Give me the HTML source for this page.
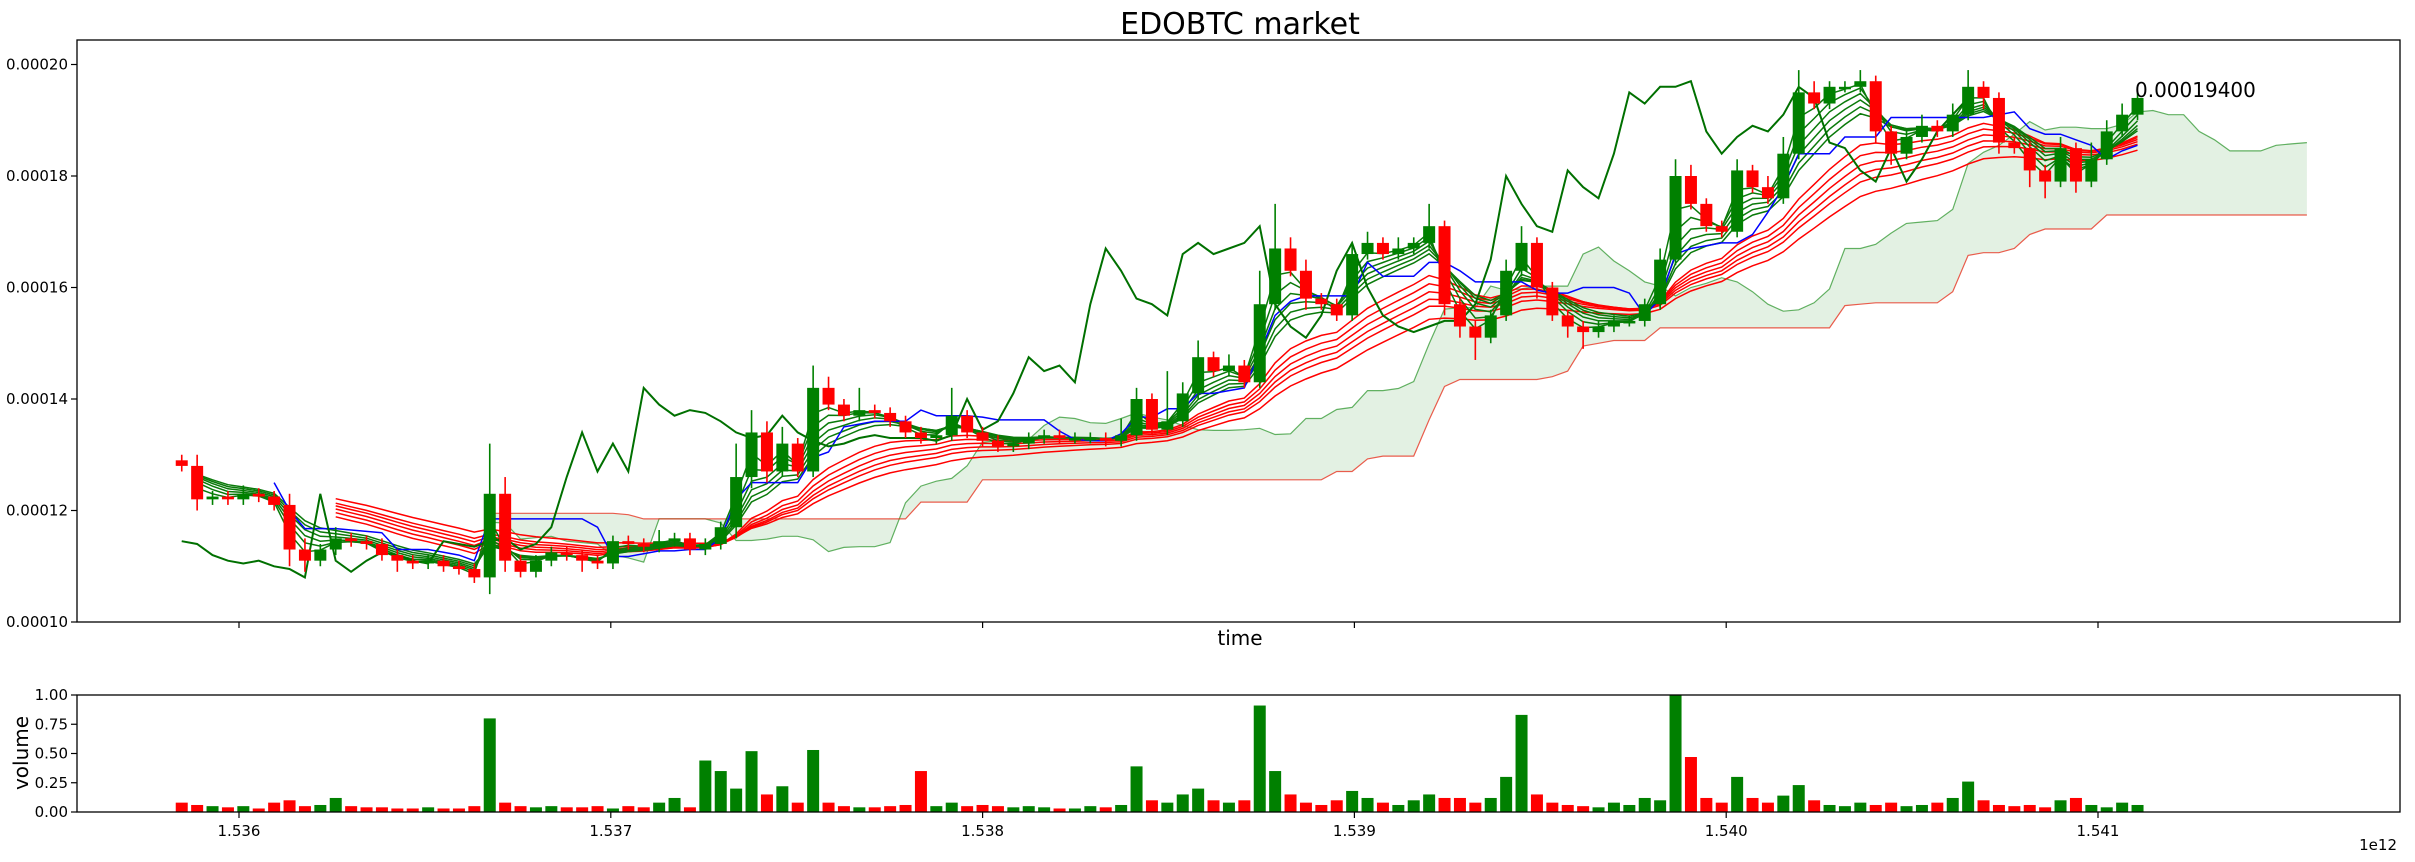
<!DOCTYPE html>
<html><head><meta charset="utf-8">
<style>
html,body{margin:0;padding:0;background:#fff;}
svg{display:block;font-family:"DejaVu Sans","Liberation Sans",sans-serif;}
</style></head>
<body>
<svg id="chart" width="2415" height="862" viewBox="0 0 2415 862" xmlns="http://www.w3.org/2000/svg">
<rect x="0" y="0" width="2415" height="862" fill="#fff"/>
<text x="1240" y="34" font-size="30" text-anchor="middle">EDOBTC market</text>
<g id="main"></g>
<g id="vol"></g>
<text x="1240" y="645" font-size="20" text-anchor="middle">time</text>
<text x="28" y="753" font-size="20" text-anchor="middle" transform="rotate(-90 28 753)">volume</text>
<text x="2397" y="850" font-size="15" text-anchor="end">1e12</text>
</svg>
<script>
// ---- data (price in units of 1e-6 BTC) ----
const closes = [128,122,122.5,122,123,122.5,121,113,111,113,115,114.5,114,112,111,110.5,111,110,109.5,108,
123,111,109,111,112.5,112,111,110.5,114.5,114,113.5,114.5,115,113,114,117,126,134,127,132,
127,142,139,137,138,137.5,136,134,133,133.5,137,134,132.5,131.5,132,133,133.5,133,133,133,
132.5,133.5,140,134.5,136,141,147.5,145,146,143,157,167,163,158,157,155,166,168,166,167,
168,171,157,153,151,155,163,168,160,155,153,152,153,154,154,157,165,180,175,171,
170,181,178,176,184,195,193,196,196,197,188,184,187,189,188,191,196,194,186,185,
181,179,185,179,183,188,191,194];
const firstOpen = 129;
const highWick = [1,2,1,1,1.5,1,1,2,2,1,2,1,1,1,1,1,1,1,1,1,
9,3,1,1,1,1,1,1,1,1,1,2,1,1,1,1,6,4,2,3,
1,4,2,1,4,1,1,1,1,1,5,1,1,1,1,1,1,1,1,1,
1,3,2,1,9,2,3,1,2,1,6,8,2,2,1,1,2,2,1,2,
1,4,1,1,1,1,2,3,1,1,1,1,1,1,1,1,2,3,2,1,
1,2,1,2,3,4,2,1,1,2,1,1,1,2,1,2,3,1,1,1,
1,1,2,1,3,2,2,1];
const lowWick = [1,2,1,1,1,1,1,3,2,1,1,1,1,1,2,1,1,1,1,1,
3,2,1,1,1,1,2,1,1,1,1,1,1,1,1,1,2,2,2,1,
1,1,1,1,1,1,1,1,1,1,1,1,1,1,1,1,1,1,1,1,
1,1,1,1,1,1,1,1,1,1,1,1,1,2,1,1,1,1,1,1,
1,1,2,2,4,1,1,1,2,1,2,3,1,1,1,1,1,1,1,1,
1,1,1,1,1,1,1,1,1,1,2,2,1,1,1,1,1,2,2,1,
3,3,1,2,1,1,1,1];
const volumes = [0.08,0.06,0.05,0.04,0.05,0.03,0.08,0.1,0.05,0.06,0.12,0.05,0.04,0.04,0.03,0.03,0.04,0.03,0.03,0.05,
0.8,0.08,0.05,0.04,0.05,0.04,0.04,0.05,0.03,0.05,0.04,0.08,0.12,0.04,0.44,0.35,0.2,0.52,0.15,0.22,
0.08,0.53,0.08,0.05,0.04,0.04,0.05,0.06,0.35,0.05,0.08,0.05,0.06,0.05,0.04,0.05,0.04,0.03,0.03,0.05,
0.04,0.06,0.39,0.1,0.08,0.15,0.2,0.1,0.08,0.1,0.91,0.35,0.15,0.08,0.06,0.1,0.18,0.12,0.08,0.06,
0.1,0.15,0.12,0.12,0.08,0.12,0.3,0.83,0.15,0.08,0.06,0.05,0.04,0.08,0.06,0.12,0.1,1.0,0.47,0.12,
0.08,0.3,0.12,0.08,0.14,0.23,0.1,0.06,0.05,0.08,0.06,0.08,0.05,0.06,0.08,0.12,0.26,0.1,0.06,0.05,
0.06,0.04,0.1,0.12,0.06,0.04,0.08,0.06];
const startTime = 1.535846;   // x 1e12 ms
const timeStep = 0.00004142;
const yTickValues = [100,120,140,160,180,200];
const yTickLabels = ["0.00010","0.00012","0.00014","0.00016","0.00018","0.00020"];
const xTickValues = [1.536,1.537,1.538,1.539,1.540,1.541];
const xTickLabels = ["1.536","1.537","1.538","1.539","1.540","1.541"];
const volTickValues = [0,0.25,0.5,0.75,1.0];
const volTickLabels = ["0.00","0.25","0.50","0.75","1.00"];
const lastPriceLabel = "0.00019400";

// ---- axes ----
const L=77,R=2400,T=40,B=622,VT=695,VB=812;
const xs = t => 239 + (t-1.536)*371800;
const ys = p => 622 - (p-100)*5.575;
const vys = v => VB - v*(VB-VT);
const NS='http://www.w3.org/2000/svg';
function el(tag,attrs,parent){const e=document.createElementNS(NS,tag);for(const k in attrs)e.setAttribute(k,attrs[k]);parent.appendChild(e);return e;}
const main=document.getElementById('main'), vol=document.getElementById('vol');
const n=closes.length;
const times=closes.map((_,i)=>startTime+i*timeStep);
const opens=closes.map((c,i)=>i===0?firstOpen:closes[i-1]);
const highs=closes.map((c,i)=>Math.max(c,opens[i])+highWick[i]);
const lows=closes.map((c,i)=>Math.min(c,opens[i])-lowWick[i]);
const tx=i=>xs(startTime+i*timeStep);

// indicators
function ema(len){const a=2/(len+1);let out=[],v=closes[0];closes.forEach((c,i)=>{v=i?a*c+(1-a)*v:c;out.push(v);});return out;}
function mid(per,i){let h=-1e9,l=1e9;for(let k=Math.max(0,i-per+1);k<=i;k++){h=Math.max(h,highs[k]);l=Math.min(l,lows[k]);}return (h+l)/2;}
const SHIFT=11;
const kijun=closes.map((_,i)=>mid(7,i));
const kijunLong=closes.map((_,i)=>mid(10,i));
const tenkan=closes.map((_,i)=>mid(4,i));
const spanA=closes.map((_,i)=>(kijunLong[i]+tenkan[i])/2);
const spanB=closes.map((_,i)=>mid(44,i));
function pathFrom(pts){return pts.map((p,k)=>(k?'L':'M')+p[0].toFixed(1)+' '+p[1].toFixed(1)).join(' ');}

// cloud
const cStart=9;
let pa=[],pb=[];
for(let i=cStart;i<n;i++){pa.push([tx(i+SHIFT),ys(spanA[i])]);pb.push([tx(i+SHIFT),ys(spanB[i])]);}
const fill=el('path',{d:pathFrom(pa.concat(pb.slice().reverse()))+' Z',fill:'rgba(0,128,0,0.11)',stroke:'none'},main);


const la=el('path',{d:pathFrom(pa),fill:'none',stroke:'rgba(0,128,0,0.6)','stroke-width':1.2},main);


const lb=el('path',{d:pathFrom(pb),fill:'none',stroke:'rgba(230,40,20,0.75)','stroke-width':1.2},main);



// red ribbon
[12,14,16,18,20,24].forEach(len=>{const e=ema(len);let pts=[];for(let i=10;i<n;i++)pts.push([tx(i),ys(e[i])]);
 const p=el('path',{d:pathFrom(pts),fill:'none',stroke:'#ff0000','stroke-width':1.5},main);
 
 });
// green ribbon
[2,3,4,5,6,7].forEach(len=>{const e=ema(len);let pts=[];for(let i=1;i<n;i++)pts.push([tx(i),ys(e[i])]);
 const p=el('path',{d:pathFrom(pts),fill:'none',stroke:'#0a7a0a','stroke-width':1.5},main);
 
 });
// kijun blue
{let pts=[];for(let i=6;i<n;i++)pts.push([tx(i),ys(kijun[i])]);
 const p=el('path',{d:pathFrom(pts),fill:'none',stroke:'#0000ff','stroke-width':1.5},main);
 
 }
// chikou
{let pts=[];for(let i=SHIFT;i<n;i++)pts.push([tx(i-SHIFT),ys(closes[i])]);
 const p=el('path',{d:pathFrom(pts),fill:'none',stroke:'#007000','stroke-width':2},main);
 
 }

// candles
for(let i=0;i<n;i++){
 const up=closes[i]>=opens[i], col=up?'#008000':'#ff0000', x=tx(i);
 const w=el('line',{x1:x,x2:x,y1:ys(highs[i]),y2:ys(lows[i]),stroke:col,'stroke-width':1.6},main);
 
 
 const top=ys(Math.max(opens[i],closes[i])), bot=ys(Math.min(opens[i],closes[i]));
 const r=el('rect',{x:x-6,y:top,width:12,height:Math.max(2.5,bot-top),fill:col},main);
 
 
}
{const t=el('text',{x:2135,y:97,'font-size':20},main);t.textContent=lastPriceLabel;
 
 }

// main frame & ticks
{const f=el('rect',{x:L,y:T,width:R-L,height:B-T,fill:'none',stroke:'#000','stroke-width':1.3},main);
 
 }
yTickValues.forEach((v,k)=>{const y=ys(v);
 const tk=el('line',{x1:L-6,x2:L,y1:y,y2:y,stroke:'#000','stroke-width':1.2},main);
 
 
 const t=el('text',{x:L-9,y:y+5,'font-size':15,'text-anchor':'end'},main);t.textContent=yTickLabels[k];
 
 });
xTickValues.forEach(v=>{const x=xs(v);
 const tk=el('line',{x1:x,x2:x,y1:B,y2:B+6,stroke:'#000','stroke-width':1.2},main);
 
 });

// volume
for(let i=0;i<n;i++){const up=closes[i]>=opens[i];
 const r=el('rect',{x:tx(i)-6,y:vys(volumes[i]),width:12,height:VB-vys(volumes[i]),fill:up?'#008000':'#ff0000'},vol);
 
 }
{const f=el('rect',{x:L,y:VT,width:R-L,height:VB-VT,fill:'none',stroke:'#000','stroke-width':1.3},vol);
 
 }
volTickValues.forEach((v,k)=>{const y=vys(v);
 const tk=el('line',{x1:L-6,x2:L,y1:y,y2:y,stroke:'#000','stroke-width':1.2},vol);
 
 
 const t=el('text',{x:L-9,y:y+5,'font-size':15,'text-anchor':'end'},vol);t.textContent=volTickLabels[k];
 
 });
xTickValues.forEach((v,k)=>{const x=xs(v);
 const tk=el('line',{x1:x,x2:x,y1:VB,y2:VB+6,stroke:'#000','stroke-width':1.2},vol);
 
 
 const t=el('text',{x:x,y:VB+24,'font-size':15,'text-anchor':'middle'},vol);t.textContent=xTickLabels[k];
 
 });
</script>
</body></html>
